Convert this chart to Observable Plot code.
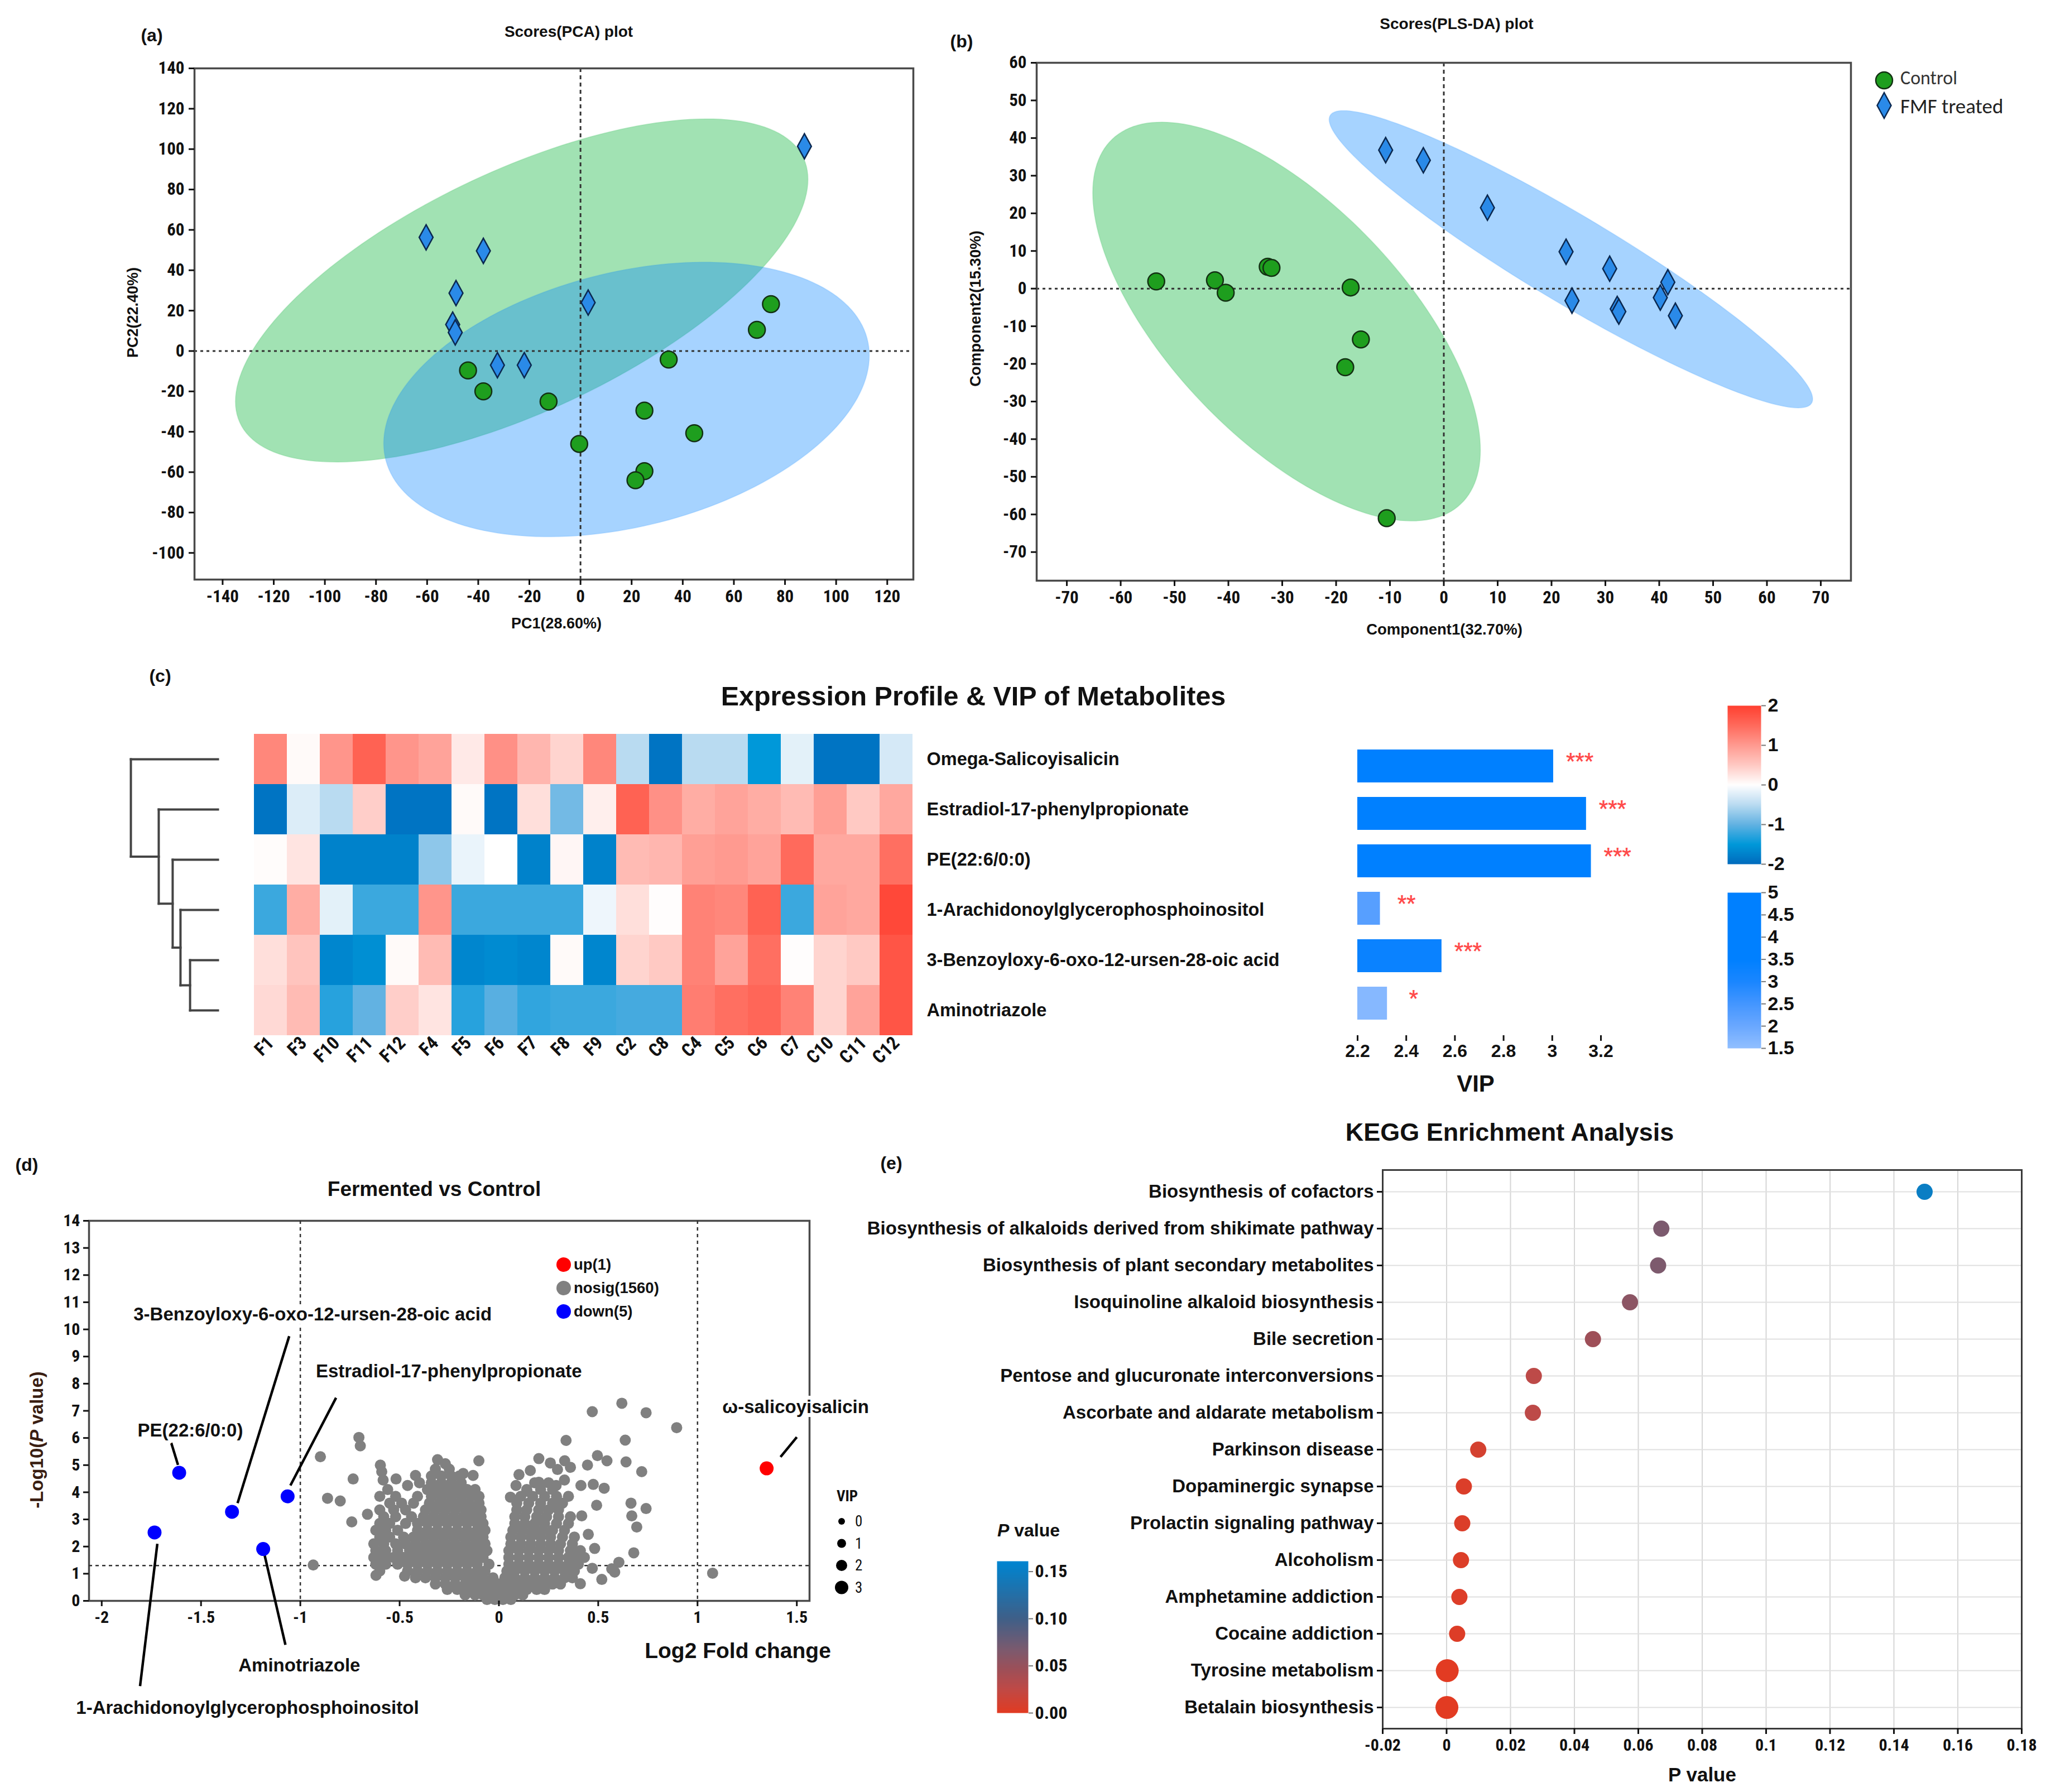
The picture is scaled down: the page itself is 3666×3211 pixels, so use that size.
<!DOCTYPE html>
<html>
<head>
<meta charset="utf-8">
<script src="https://cdn.jsdelivr.net/npm/d3@7"></script>
<script src="https://cdn.jsdelivr.net/npm/@observablehq/plot@0.6"></script>
<style>
html,body{margin:0;padding:0;background:#fff;}
#fig{position:relative;width:3666px;height:3211px;background:#fff;overflow:hidden;}
#fig svg{position:absolute;overflow:visible;}
.t{position:absolute;white-space:nowrap;line-height:1;}
</style>
</head>
<body>
<div id="fig"></div>
<script>
// ================= DATA =================
// (a) PCA scores
const pcaCtrlX = [-44, -38, -12.5, -0.5, 25, 25, 21.5, 44.5, 34.5, 69, 74.5];
const pcaCtrlY = [-9.6, -20, -25, -46, -29.5, -59.5, -64, -40.7, -4.2, 10.5, 23.2];
const pcaFmfX = [-60.4, -38, -48.7, -50, -49, -32.5, -22, 3, 87.6];
const pcaFmfY = [56.3, 49.6, 28.7, 13.1, 9.2, -7, -7, 24, 101.4];
const pcaXTicks = [-140,-120,-100,-80,-60,-40,-20,0,20,40,60,80,100,120];
const pcaYTicks = [-100,-80,-60,-40,-20,0,20,40,60,80,100,120,140];
// (b) PLS-DA scores
const plsCtrlX = [-53.4, -42.5, -40.5, -32.7, -32, -17.3, -15.4, -18.3, -10.6];
const plsCtrlY = [1.9, 2.2, -1.1, 5.8, 5.5, 0.3, -13.5, -20.9, -61];
const plsFmfX = [-10.8, -3.8, 8.1, 22.7, 23.8, 30.8, 32.2, 32.5, 40.2, 41.6, 43];
const plsFmfY = [36.8, 34.1, 21.5, 9.8, -3.2, 5.3, -5.4, -6.1, -2.4, 1.7, -7.2];
const plsXTicks = [-70,-60,-50,-40,-30,-20,-10,0,10,20,30,40,50,60,70];
const plsYTicks = [-70,-60,-50,-40,-30,-20,-10,0,10,20,30,40,50,60];
// confidence ellipses: centre, half-width, half-height, correlation
const pcaEllipses = [
  {group:"Control", cx:-23, cy:30, w:112, h:85, r:0.647},
  {group:"FMF treated", cx:18, cy:-24, w:95, h:68, r:0.32}
];
const plsEllipses = [
  {group:"Control", cx:-29.2, cy:-8.75, w:36, h:53, r:-0.645},
  {group:"FMF treated", cx:23.6, cy:7.8, w:44.9, h:39.5, r:-0.94}
];
// (c) heatmap
const metabolites = ["Omega-Salicoyisalicin","Estradiol-17-phenylpropionate","PE(22:6/0:0)","1-Arachidonoylglycerophosphoinositol","3-Benzoyloxy-6-oxo-12-ursen-28-oic acid","Aminotriazole"];
const samples = ["F1","F3","F10","F11","F12","F4","F5","F6","F7","F8","F9","C2","C8","C4","C5","C6","C7","C10","C11","C12"];
const zOmega     = [1.2, 0.05, 1.05, 1.6, 1.05, 0.9, 0.2, 1.1, 0.7, 0.4, 1.2, -0.5, -1.9, -0.5, -0.5, -1.5, -0.2, -1.9, -1.9, -0.3];
const zEstradiol = [-1.9, -0.25, -0.5, 0.45, -1.9, -1.9, 0.05, -1.9, 0.3, -0.9, 0.15, 1.6, 1.1, 0.8, 0.9, 0.8, 0.65, 0.95, 0.5, 0.85];
const zPE        = [0.03, 0.25, -1.75, -1.75, -1.75, -0.75, -0.15, 0, -1.75, 0.08, -1.75, 0.65, 0.7, 0.95, 1.0, 0.9, 1.5, 0.85, 0.85, 1.45];
const zArach     = [-1.2, 0.8, -0.2, -1.2, -1.2, 1.05, -1.2, -1.2, -1.2, -1.2, -0.12, 0.3, 0.02, 1.25, 1.2, 1.6, -1.2, 0.9, 0.85, 1.9];
const zBenzoyl   = [0.3, 0.55, -1.7, -1.6, 0.05, 0.65, -1.7, -1.65, -1.7, 0.05, -1.7, 0.4, 0.5, 1.25, 0.9, 1.45, 0.02, 0.4, 0.5, 1.75];
const zAmino     = [0.35, 0.65, -1.3, -1.0, 0.45, 0.25, -1.3, -1.05, -1.25, -1.2, -1.2, -1.15, -1.15, 1.3, 1.45, 1.55, 1.25, 0.4, 0.9, 1.75];
const heatLegendTicks = [-2,-1,0,1,2];
// dendrogram merges: [child, child, height]
const dendroMerges = [
  ["3-Benzoyloxy-6-oxo-12-ursen-28-oic acid","Aminotriazole",0.32],
  ["n0","1-Arachidonoylglycerophosphoinositol",0.43],
  ["n1","PE(22:6/0:0)",0.52],
  ["n2","Estradiol-17-phenylpropionate",0.68],
  ["n3","Omega-Salicoyisalicin",1.0]
];
// VIP bars
const vipValues = [3.005, 3.14, 3.16, 2.293, 2.546, 2.322];
const vipSig = ["***","***","***","**","***","*"];
const vipColorValues = [4.9, 4.7, 4.7, 2.25, 3.3, 1.65];
const vipTicks = [2.2,2.4,2.6,2.8,3,3.2];
const vipLegendTicks = [1.5,2,2.5,3,3.5,4,4.5,5];
// (d) volcano
const volcNames = ["ω-salicoyisalicin","Estradiol-17-phenylpropionate","PE(22:6/0:0)","1-Arachidonoylglycerophosphoinositol","3-Benzoyloxy-6-oxo-12-ursen-28-oic acid","Aminotriazole"];
const volcFC = [1.348, -1.064, -1.61, -1.734, -1.344, -1.187];
const volcLogP = [4.88, 3.85, 4.72, 2.52, 3.28, 1.91];
const volcDir = ["up","down","down","down","down","down"];
const nosigOutliers = [
 [-0.705,6.02],[-0.698,5.71],[-0.899,5.31],[-0.734,4.49],[-0.863,3.78],[-0.799,3.68],[-0.741,2.91],[-0.935,1.32],
 [-0.619,0.94],[-0.662,3.19],[-0.597,5.0],[-0.59,4.76],[-0.583,4.45],[-0.518,4.49],[-0.475,0.91],[-0.309,5.2],
 [-0.101,5.16],[-0.18,4.69],[-0.42,4.62],[-0.27,5.05],[-0.46,4.25],[-0.13,4.62],
 [0.619,7.28],[0.47,6.97],[0.741,6.93],[0.895,6.38],[0.338,5.91],[0.636,5.92],[0.496,5.35],[0.544,5.16],[0.64,5.12],
 [0.201,5.24],[0.446,5.0],[0.259,5.08],[0.331,5.16],[0.36,4.92],[0.719,4.76],[0.295,4.84],[0.158,4.8],[0.101,4.65],
 [0.201,4.37],[0.413,4.25],[0.475,4.29],[0.53,4.15],[0.288,4.25],[0.086,4.25],[0.141,4.04],[0.058,3.82],[0.665,3.6],
 [0.741,3.4],[0.492,3.52],[0.669,3.13],[0.417,3.13],[0.694,2.72],[0.482,1.93],[0.679,1.77],[0.604,1.42],[0.568,1.18],
 [0.583,1.06],[0.518,0.79],[0.41,0.63],[1.076,1.02],[0.353,0.98],[0.45,2.45],[0.43,1.6],[0.47,1.2],[0.35,3.85],[0.33,4.45]
];
const nosigRows = [
 [0.05,[-0.06,-0.02,0.02,0.06]],
 [0.22,[-0.17,-0.12,-0.08,-0.04,0.0,0.04,0.08,0.12]],
 [0.42,[-0.26,-0.21,-0.16,-0.12,-0.07,-0.03,0.01,0.05,0.09,0.14,0.19,0.23]],
 [0.62,[-0.32,-0.27,-0.22,-0.17,-0.13,-0.08,-0.04,0.0,0.04,0.08,0.12,0.17,0.22,0.27,0.31]],
 [0.85,[-0.42,-0.37,-0.32,-0.27,-0.22,-0.17,-0.12,-0.08,-0.03,0.03,0.08,0.13,0.18,0.23,0.28,0.33,0.37]],
 [1.1,[-0.6,-0.46,-0.41,-0.36,-0.31,-0.26,-0.21,-0.16,-0.11,-0.07,0.04,0.08,0.13,0.18,0.23,0.28,0.33,0.38]],
 [1.35,[-0.62,-0.57,-0.51,-0.46,-0.41,-0.36,-0.31,-0.26,-0.21,-0.16,-0.11,-0.05,0.05,0.1,0.15,0.2,0.25,0.3,0.35,0.4]],
 [1.6,[-0.63,-0.58,-0.53,-0.48,-0.43,-0.38,-0.33,-0.28,-0.23,-0.18,-0.13,-0.08,0.05,0.1,0.15,0.2,0.25,0.3,0.35,0.39]],
 [1.85,[-0.62,-0.57,-0.51,-0.45,-0.4,-0.35,-0.3,-0.25,-0.2,-0.15,-0.1,-0.06,0.05,0.1,0.15,0.2,0.25,0.3,0.36,0.41]],
 [2.1,[-0.63,-0.58,-0.52,-0.47,-0.42,-0.37,-0.32,-0.27,-0.22,-0.17,-0.12,-0.07,0.06,0.11,0.16,0.21,0.26,0.31,0.37]],
 [2.35,[-0.6,-0.55,-0.48,-0.43,-0.38,-0.33,-0.28,-0.23,-0.18,-0.13,-0.08,0.06,0.11,0.16,0.21,0.26,0.32,0.38]],
 [2.6,[-0.62,-0.57,-0.51,-0.41,-0.36,-0.31,-0.26,-0.21,-0.16,-0.11,-0.07,0.07,0.12,0.17,0.22,0.27,0.33]],
 [2.85,[-0.6,-0.55,-0.47,-0.41,-0.36,-0.31,-0.26,-0.21,-0.16,-0.11,-0.08,0.08,0.13,0.18,0.23,0.29,0.35]],
 [3.1,[-0.58,-0.52,-0.44,-0.38,-0.33,-0.28,-0.23,-0.18,-0.13,-0.09,0.08,0.13,0.19,0.24,0.3,0.36]],
 [3.35,[-0.6,-0.53,-0.47,-0.37,-0.32,-0.27,-0.22,-0.17,-0.13,-0.09,0.09,0.14,0.2,0.25,0.3]],
 [3.6,[-0.55,-0.49,-0.43,-0.35,-0.3,-0.25,-0.2,-0.15,-0.1,0.09,0.15,0.21,0.27,0.32]],
 [3.85,[-0.6,-0.52,-0.41,-0.34,-0.29,-0.24,-0.19,-0.14,-0.1,0.11,0.17,0.23,0.29]],
 [4.1,[-0.56,-0.36,-0.31,-0.26,-0.21,-0.16,-0.12,0.14,0.21,0.27]],
 [4.35,[-0.4,-0.34,-0.29,-0.24,-0.19,0.18,0.25]],
 [4.6,[-0.34,-0.29,-0.24,-0.2]],
 [4.85,[-0.32,-0.25]]
];
const foldCutoffs = [-1, 1];
const pCutoff = 1.301;
const volcXTicks = [-2,-1.5,-1,-0.5,0,0.5,1,1.5];
const volcYTicks = [0,1,2,3,4,5,6,7,8,9,10,11,12,13,14];
const volcLegend = [["up(1)","#ff0000"],["nosig(1560)","#808080"],["down(5)","#0000ff"]];
const vipSizeLegend = [0,1,2,3];
// (e) KEGG
const pathways = ["Biosynthesis of cofactors","Biosynthesis of alkaloids derived from shikimate pathway","Biosynthesis of plant secondary metabolites","Isoquinoline alkaloid biosynthesis","Bile secretion","Pentose and glucuronate interconversions","Ascorbate and aldarate metabolism","Parkinson disease","Dopaminergic synapse","Prolactin signaling pathway","Alcoholism","Amphetamine addiction","Cocaine addiction","Tyrosine metabolism","Betalain biosynthesis"];
const pathwayP = [0.1496, 0.0672, 0.0662, 0.0574, 0.0458, 0.0273, 0.0270, 0.0099, 0.0054, 0.0049, 0.0045, 0.0040, 0.0033, 0.0002, 0.0001];
const pathwayHits = [1,1,1,1,1,1,1,1,1,1,1,1,1,2,2];
const keggXTicks = [-0.02,0,0.02,0.04,0.06,0.08,0.1,0.12,0.14,0.16,0.18];
const pLegendTicks = [0,0.05,0.10,0.15];

// ================= STYLE / LAYOUT =================
const NARROW = '"Liberation Sans Narrow","Arial Narrow","Roboto Condensed","DejaVu Sans Condensed",sans-serif';
const ARIAL = '"Liberation Sans",Arial,Helvetica,sans-serif';
const fig = document.getElementById("fig");
const fmt = d => String(d);

function put(node, left, top){ node.style.position="absolute"; node.style.left=left+"px"; node.style.top=top+"px"; fig.appendChild(node); return node; }
function label(html, x, y, o={}){
  const d=document.createElement("div"); d.className="t"; d.innerHTML=html;
  d.style.fontFamily=o.font||ARIAL; d.style.fontSize=(o.size||30)+"px";
  d.style.fontWeight=o.weight||"bold"; d.style.color=o.color||"#111";
  const a=o.anchor||"middle";
  const tx = a==="middle"?"-50%":a==="end"?"-100%":"0%";
  d.style.transform=`translate(${tx},-50%) rotate(${o.rotate||0}deg)`;
  return put(d,x,y);
}
function plotAt(f, m, opts){
  const width=f[2]-f[0]+m[1]+m[3], height=f[3]-f[1]+m[0]+m[2];
  const {style, ...rest} = opts;
  const svg=Plot.plot({width,height,marginTop:m[0],marginRight:m[1],marginBottom:m[2],marginLeft:m[3],...rest,
    style:{background:"transparent",overflow:"visible",fontFamily:NARROW,fontWeight:"bold",color:"#111",...(style||{})}});
  return put(svg,f[0]-m[3],f[1]-m[0]);
}
const tallDiamond = {draw(ctx,size){const h=Math.sqrt(size)*0.98,w=h*0.55;ctx.moveTo(0,-h);ctx.lineTo(w,0);ctx.lineTo(0,h);ctx.lineTo(-w,0);ctx.closePath();}};
function ellipsePath(e){
  return d3.range(0,360,2).map(t=>{const a=t*Math.PI/180;return {x:e.cx+e.w*Math.cos(a), y:e.cy+e.h*(e.r*Math.cos(a)+Math.sqrt(1-e.r*e.r)*Math.sin(a))};});
}
const zip = (xs, ys) => xs.map((x,i)=>({x, y:ys[i]}));
const ellFill = {"Control":["#00b030",0.37], "FMF treated":["#0080ff",0.35]};
const CTRL_FILL="#1e9e1e", CTRL_STROKE="#133013", FMF_FILL="#2a8ae8", FMF_STROKE="#0b2850";

function scorePlot(frame, xd, yd, xt, yt, ells, ctrl, fmf){
  plotAt(frame,[10,10,70,90],{
    x:{domain:xd}, y:{domain:yd},
    marks:[
      ...ells.map(e=>Plot.line(ellipsePath(e),{x:"x",y:"y",curve:"linear-closed",fill:ellFill[e.group][0],fillOpacity:ellFill[e.group][1],stroke:ellFill[e.group][0],strokeOpacity:0.12,strokeWidth:2})),
      Plot.ruleX([0],{stroke:"#333",strokeWidth:3,strokeDasharray:"7,6"}),
      Plot.ruleY([0],{stroke:"#333",strokeWidth:3,strokeDasharray:"5,6"}),
      Plot.frame({stroke:"#4a4a4a",strokeWidth:3.5}),
      Plot.axisX({ticks:xt,tickFormat:fmt,tickSize:10,tickPadding:8,fontSize:31,strokeWidth:3,label:null}),
      Plot.axisY({ticks:yt,tickFormat:fmt,tickSize:10,tickPadding:8,fontSize:31,strokeWidth:3,label:null}),
      Plot.dot(ctrl,{x:"x",y:"y",r:15,fill:CTRL_FILL,stroke:CTRL_STROKE,strokeWidth:2.5}),
      Plot.dot(fmf,{x:"x",y:"y",r:13,symbol:tallDiamond,fill:FMF_FILL,stroke:FMF_STROKE,strokeWidth:2.5})
    ]
  });
}

// ---------- (a) ----------
scorePlot([348,122,1636,1038],[-151,130.2],[-113.2,140],pcaXTicks,pcaYTicks,pcaEllipses,zip(pcaCtrlX,pcaCtrlY),zip(pcaFmfX,pcaFmfY));
label("(a)",272,63,{size:32});
label("Scores(PCA) plot",1019,57,{size:28});
label("PC1(28.60%)",997,1117,{size:27});
label("PC2(22.40%)",238,560,{size:27,rotate:-90});

// ---------- (b) ----------
scorePlot([1857,112,3316,1040],[-75.6,75.6],[-77.6,60],plsXTicks,plsYTicks,plsEllipses,zip(plsCtrlX,plsCtrlY),zip(plsFmfX,plsFmfY));
label("(b)",1723,74,{size:32});
label("Scores(PLS-DA) plot",2610,43,{size:28});
label("Component1(32.70%)",2588,1128,{size:27.5});
label("Component2(15.30%)",1748,553,{size:27.5,rotate:-90});
{
  const d=document.createElement("div");
  d.innerHTML=`<svg width="60" height="110" style="position:static"><circle cx="30" cy="30" r="15" fill="${CTRL_FILL}" stroke="${CTRL_STROKE}" stroke-width="2.5"/><path d="M30,52 L42.5,75 L30,98 L17.5,75Z" fill="${FMF_FILL}" stroke="${FMF_STROKE}" stroke-width="2.5"/></svg>`;
  put(d,3346,114);
  label("Control",3405,140,{anchor:"start",font:'Carlito,Lato,"Open Sans",sans-serif',weight:"normal",size:34,color:"#333"});
  label("FMF treated",3405,190,{anchor:"start",font:'Carlito,Lato,"Open Sans",sans-serif',weight:"normal",size:37,color:"#222"});
}

// ---------- (c) ----------
const zRows=[zOmega,zEstradiol,zPE,zArach,zBenzoyl,zAmino];
const cells=metabolites.flatMap((m,i)=>samples.map((s,j)=>({metabolite:m,sample:s,z:zRows[i][j]})));
const heatColor={type:"linear",domain:[-2,-1.5,-1,-0.5,0,0.5,1,1.5,2],range:["#006bbd","#0098d9","#62b2e2","#b9dbf1","#ffffff","#ffc9c3","#ff9a90","#ff6a5c","#ff4030"],interpolate:"rgb"};
const HEAT=[451,1315,1638,1855];
plotAt(HEAT,[0,740,90,0],{
  x:{domain:samples,padding:0}, y:{domain:metabolites,padding:0}, color:heatColor,
  marks:[
    Plot.cell(cells,{x:"sample",y:"metabolite",fill:"z",inset:0}),
    Plot.axisX({anchor:"bottom",tickSize:0,tickRotate:-45,tickPadding:8,fontSize:33,label:null}),
    Plot.axisY({anchor:"right",tickSize:0,tickPadding:22,fontSize:32.5,fontFamily:ARIAL,label:null})
  ]
});
// dendrogram
{
  const pos=new Map(metabolites.map((m,i)=>[m,{h:0,y:i+0.5}]));
  const segs=[];
  dendroMerges.forEach(([a,b,h],k)=>{
    const A=pos.get(a),B=pos.get(b);
    segs.push({x1:A.h,y1:A.y,x2:h,y2:A.y},{x1:B.h,y1:B.y,x2:h,y2:B.y},{x1:h,y1:A.y,x2:h,y2:B.y});
    pos.set("n"+k,{h,y:(A.y+B.y)/2});
  });
  plotAt([234,HEAT[1],390,HEAT[3]],[0,0,0,0],{
    x:{domain:[1,0],axis:null}, y:{domain:[metabolites.length,0],axis:null},
    marks:[Plot.link(segs,{x1:"x1",y1:"y1",x2:"x2",y2:"y2",stroke:"#444",strokeWidth:4,strokeLinecap:"square"})]
  });
}
// VIP bars
const vipData=metabolites.map((m,i)=>({metabolite:m,vip:vipValues[i],sig:vipSig[i],score:vipColorValues[i]}));
const vipColor={type:"linear",domain:[1.5,2,2.5,3,3.5,5],range:["#92bfff","#6aa8ff","#4496ff","#1a86ff","#0080ff","#0080ff"],interpolate:"rgb"};
plotAt([2432,HEAT[1],2868,HEAT[3]],[0,60,70,20],{
  x:{domain:[2.2,3.2]}, y:{domain:metabolites,padding:0.3,axis:null}, color:vipColor,
  marks:[
    Plot.barX(vipData,{x:"vip",y:"metabolite",fill:"score",clip:true}),
    Plot.text(vipData,{x:"vip",y:"metabolite",text:"sig",dx:47,dy:-10,fill:"#ff4b4b",fontSize:36,fontWeight:"bold"}),
    Plot.axisX({ticks:vipTicks,tickFormat:fmt,tickSize:10,tickPadding:6,fontSize:32,strokeWidth:3,fontFamily:ARIAL,label:null}),
    Plot.ruleY([0],{frameAnchor:"bottom",x1:2.2,x2:3.2,stroke:"#222",strokeWidth:3})
  ]
});
label("VIP",2644,1942,{size:42});
// colour bars
plotAt([3095,1264,3155,1548],[0,80,0,0],{
  x:{domain:[0,1],axis:null}, y:{domain:[-2,2],axis:null}, color:heatColor,
  marks:[Plot.raster({fill:(x,y)=>y,x1:0,x2:1,y1:-2,y2:2}),
         Plot.axisY({anchor:"right",ticks:heatLegendTicks,tickFormat:fmt,tickSize:8,tickPadding:4,fontSize:34,stroke:"#777",strokeWidth:2,fontFamily:ARIAL,label:null})]
});
plotAt([3095,1599,3155,1878],[0,80,0,0],{
  x:{domain:[0,1],axis:null}, y:{domain:[1.5,5],axis:null}, color:vipColor,
  marks:[Plot.raster({fill:(x,y)=>y,x1:0,x2:1,y1:1.5,y2:5}),
         Plot.axisY({anchor:"right",ticks:vipLegendTicks,tickFormat:fmt,tickSize:8,tickPadding:4,fontSize:34,stroke:"#777",strokeWidth:2,fontFamily:ARIAL,label:null})]
});
label("(c)",287,1211,{size:32});
label("Expression Profile &amp; VIP of Metabolites",1744,1247,{size:48.5});

// ---------- (d) volcano ----------
const nosig=[...nosigOutliers.map(([x,y])=>({x,y})), ...nosigRows.flatMap(([y,xs])=>xs.map(x=>({x,y})))];
const sig=volcNames.map((n,i)=>({name:n,x:volcFC[i],y:volcLogP[i],dir:volcDir[i]}));
// annotation layout (label centre and leader line ends, data units)
const annotLayout=[
  {lx:1.494,ly:7.13, ax:1.418,ay:5.30, bx:1.50,by:6.03},
  {lx:-0.252,ly:8.45, ax:-1.05,ay:4.25, bx:-0.82,by:7.48},
  {lx:-1.554,ly:6.27, ax:-1.616,ay:5.01, bx:-1.65,by:5.82},
  {lx:-1.266,ly:-3.94, ax:-1.72,ay:2.1, bx:-1.807,by:-3.14},
  {lx:-0.938,ly:10.54, ax:-1.316,ay:3.6, bx:-1.056,by:9.75},
  {lx:-1.005,ly:-2.38, ax:-1.187,ay:1.91, bx:-1.075,by:-1.62}
];
const annot=sig.map((d,i)=>({...annotLayout[i],label:d.name}));
plotAt([159,2187,1450,2868],[20,160,260,90],{
  x:{domain:[-2.064,1.564]}, y:{domain:[0,14]},
  marks:[
    Plot.frame({stroke:"#4a4a4a",strokeWidth:3.5}),
    Plot.ruleX(foldCutoffs,{stroke:"#333",strokeWidth:2.5,strokeDasharray:"6,6"}),
    Plot.ruleY([pCutoff],{stroke:"#333",strokeWidth:2.5,strokeDasharray:"6,6"}),
    Plot.dot(nosig,{x:"x",y:"y",r:10,fill:"#808080"}),
    Plot.link(annot,{x1:"ax",y1:"ay",x2:"bx",y2:"by",stroke:"#000",strokeWidth:4.5}),
    Plot.dot(sig.filter(d=>d.dir==="down"),{x:"x",y:"y",r:12.5,fill:"#0000ff"}),
    Plot.dot(sig.filter(d=>d.dir==="up"),{x:"x",y:"y",r:12.5,fill:"#ff0000"}),
    Plot.text(annot,{x:"lx",y:"ly",text:"label",fontSize:33,fontFamily:ARIAL,fontWeight:"bold",fill:"#111",stroke:"white",strokeWidth:14}),
    Plot.axisX({ticks:volcXTicks,tickFormat:fmt,tickSize:10,tickPadding:8,fontSize:30,strokeWidth:3,label:null}),
    Plot.axisY({ticks:volcYTicks,tickFormat:fmt,tickSize:10,tickPadding:6,fontSize:30,strokeWidth:3,label:null})
  ]
});
label("(d)",48,2087,{size:32});
label("Fermented vs Control",778,2130,{size:37});
label("-Log10(<i>P</i> value)",65,2580,{size:33,rotate:-90,color:"#3a1e12"});
label("Log2 Fold change",1322,2957,{size:39});
{
  const d=document.createElement("div");
  d.innerHTML=`<svg width="40" height="130" style="position:static">${volcLegend.map((l,i)=>`<circle cx="20" cy="${20+i*42}" r="13" fill="${l[1]}"/>`).join("")}</svg>`;
  put(d,990,2246);
  volcLegend.forEach((l,i)=>label(l[0],1028,2266+i*42,{size:27.5,anchor:"start"}));
  label("VIP",1518,2681,{size:27,font:NARROW});
  const s=document.createElement("div");
  s.innerHTML=`<svg width="40" height="170" style="position:static">${vipSizeLegend.map((v,i)=>`<circle cx="20" cy="${15+i*39.5}" r="${6+2*v}" fill="#000"/>`).join("")}</svg>`;
  put(s,1488,2711);
  vipSizeLegend.forEach((v,i)=>label(String(v),1532,2726+i*39.5,{size:27,anchor:"start",weight:"normal",font:NARROW}));
}

// ---------- (e) KEGG ----------
const kegg=pathways.map((p,i)=>({pathway:p,p:pathwayP[i],hits:pathwayHits[i]}));
const pColor={type:"linear",domain:[0,0.027,0.046,0.067,0.10,0.15],range:["#e23b22","#bd4a48","#9e4f58","#7c5a6e","#3f5f88","#0a7ec4"],interpolate:"rgb"};
plotAt([2477,2096,3622,3097],[0,30,110,980],{
  x:{domain:[-0.02,0.18]}, y:{type:"point",domain:pathways,padding:0.5}, color:pColor,
  r:{type:"sqrt",domain:[0,2],range:[0,20.5]},
  marks:[
    Plot.gridX({ticks:keggXTicks,stroke:"#d6d6d6",strokeOpacity:1,strokeWidth:2}),
    Plot.gridY({stroke:"#e0e0e0",strokeOpacity:1,strokeWidth:2}),
    Plot.frame({stroke:"#3a3a3a",strokeWidth:3}),
    Plot.dot(kegg,{x:"p",y:"pathway",r:"hits",fill:"p"}),
    Plot.axisX({ticks:keggXTicks,tickFormat:fmt,tickSize:10,tickPadding:8,fontSize:30,strokeWidth:3,label:null}),
    Plot.axisY({tickSize:10,tickPadding:6,fontSize:33,strokeWidth:3,fontFamily:ARIAL,label:null})
  ]
});
plotAt([1786,2797,1842,3069],[0,90,0,0],{
  x:{domain:[0,1],axis:null}, y:{domain:[0,0.161],axis:null}, color:pColor,
  marks:[Plot.raster({fill:(x,y)=>y,x1:0,x2:1,y1:0,y2:0.161}),
         Plot.axisY({anchor:"right",ticks:pLegendTicks,tickFormat:d3.format(".2f"),tickSize:8,tickPadding:4,fontSize:32,stroke:"#777",strokeWidth:2,label:null})]
});
label("KEGG Enrichment Analysis",2705,2028,{size:45});
label("(e)",1597,2084,{size:32});
label("P value",3050,3179,{size:35});
label("<i>P</i> value",1843,2742,{size:32});
</script>
</body>
</html>
